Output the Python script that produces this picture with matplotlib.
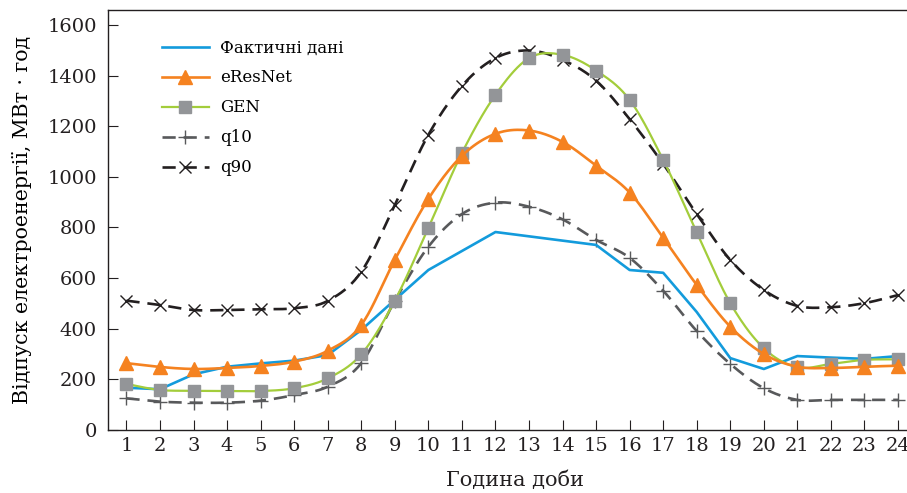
import numpy as np
import matplotlib
matplotlib.use("Agg")
import matplotlib.pyplot as plt

hours = list(range(1, 25))
actual = [167, 161, 220, 250, 263, 274, 296, 395, 514, 632, 707, 782,
          765, 748, 731, 632, 621, 466, 284, 241, 292, 286, 281, 292]
eresnet = [264, 249, 241, 245, 253, 270, 313, 415, 672, 913, 1083, 1170,
           1183, 1138, 1044, 938, 759, 573, 408, 300, 250, 245, 250, 254]
gen = [182, 158, 155, 154, 154, 165, 204, 299, 511, 798, 1094, 1324,
       1469, 1482, 1420, 1304, 1067, 781, 501, 323, 248, 261, 277, 279]
q10 = [125, 112, 108, 108, 116, 138, 171, 264, 510, 724, 853, 898,
       882, 832, 751, 680, 550, 391, 261, 165, 119, 119, 119, 119]
q90 = [511, 494, 474, 474, 477, 481, 510, 625, 889, 1166, 1359, 1469,
       1499, 1462, 1380, 1228, 1051, 853, 672, 553, 490, 485, 501, 533]

labels = ["Фактичні дані", "eResNet", "GEN", "q10", "q90"]
yticks = [0, 200, 400, 600, 800, 1000, 1200, 1400, 1600]


def smooth(x, y, n=20):
    """Catmull-Rom curve through the points (a drawing style only)."""
    x = np.asarray(x, float)
    y = np.asarray(y, float)
    P = np.column_stack([x, y])
    P = np.vstack([P[0], P, P[-1]])
    out = []
    t = np.linspace(0, 1, n, endpoint=False)
    for i in range(1, len(P) - 2):
        p0, p1, p2, p3 = P[i - 1], P[i], P[i + 1], P[i + 2]
        tt = t[:, None]
        seg = 0.5 * ((2 * p1) + (-p0 + p2) * tt +
                     (2 * p0 - 5 * p1 + 4 * p2 - p3) * tt ** 2 +
                     (-p0 + 3 * p1 - 3 * p2 + p3) * tt ** 3)
        out.append(seg)
    out.append(P[-2][None, :])
    out = np.vstack(out)
    return out[:, 0], out[:, 1]


N = 20
plt.rcParams['font.family'] = ['DejaVu Serif']

fig = plt.figure(figsize=(9.07, 4.93), dpi=100)
ax = fig.add_axes([108 / 907, 63 / 493, (914 - 108) / 907, 420 / 493])

c_blue = '#139bdc'
c_orange = '#f58220'
c_green = '#a3cd3b'
c_sq = '#939598'
c_q10 = '#58595b'
c_q90 = '#231f20'

xs, ys = smooth(hours, q10, N)
ax.plot(xs, ys, color=c_q10, lw=1.9, dashes=(5, 3), marker='+', ms=10,
        mew=1.0, markevery=N, label=labels[3], zorder=2)
xs, ys = smooth(hours, q90, N)
ax.plot(xs, ys, color=c_q90, lw=1.9, dashes=(5, 3), marker='x', ms=9,
        mew=1.0, markevery=N, label=labels[4], zorder=2)
ax.plot(hours, actual, color=c_blue, lw=1.9, label=labels[0], zorder=3)
xs, ys = smooth(hours, gen, N)
ax.plot(xs, ys, color=c_green, lw=1.6, marker='s', ms=8.5, mfc=c_sq,
        mec=c_sq, markevery=N, label=labels[2], zorder=4)
xs, ys = smooth(hours, eresnet, N)
ax.plot(xs, ys, color=c_orange, lw=1.9, marker='^', ms=9.5, mfc=c_orange,
        mec=c_orange, markevery=N, label=labels[1], zorder=5)

ax.set_xlim(0.45, 24 + (914 - 898) / 33.57)
ax.set_ylim(0, 1659)
ax.set_xticks(hours)
ax.set_yticks(yticks)
ax.tick_params(axis='both', direction='in', labelsize=14, width=0.8,
               length=7, colors='#231f20')
ax.tick_params(axis='y', pad=8)
ax.tick_params(axis='x', pad=5)
for s in ax.spines.values():
    s.set_linewidth(1.0)
    s.set_color('#231f20')

ax.set_ylabel("Відпуск електроенергії, МВт · год", fontsize=14.8, labelpad=11)
fig.text(515 / 907, 1 - 480 / 493, "Година доби", fontsize=15,
         ha='center', va='center', color='#231f20')

h, l = ax.get_legend_handles_labels()
hd = {lab: hh for hh, lab in zip(h, l)}
leg = ax.legend([hd[k] for k in labels], labels, loc='upper left',
                bbox_to_anchor=(0.067, 0.93), frameon=False, fontsize=12,
                handlelength=2.8, handletextpad=0.7, labelspacing=0.78,
                borderpad=0, borderaxespad=0)

fig.savefig("out.png", dpi=100)
